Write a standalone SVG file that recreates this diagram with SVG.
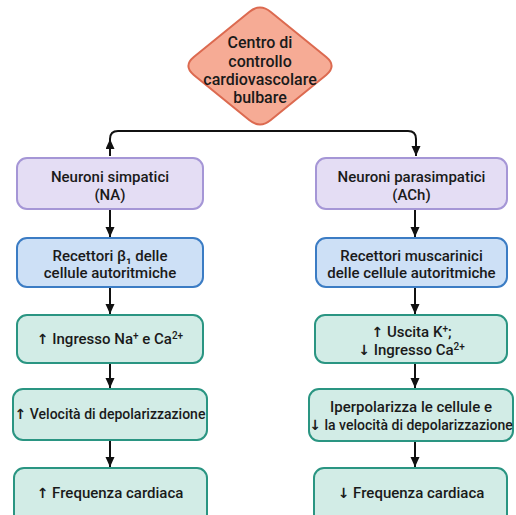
<svg xmlns="http://www.w3.org/2000/svg" width="516" height="515" viewBox="0 0 516 515">
<style>
.t{font-family:Roboto,"Liberation Sans",Arial,sans-serif;font-size:15px;font-weight:500;fill:#1a1a1a;text-anchor:middle}
.n{font-size:14px}
.d{font-family:Roboto,"Liberation Sans",Arial,sans-serif;font-size:16px;font-weight:500;fill:#1a1a1a;text-anchor:middle}
.p{fill:#e4ddf4;stroke:#a596d6;stroke-width:2}
.b{fill:#cde0f6;stroke:#3b7cc4;stroke-width:2}
.g{fill:#d2ece6;stroke:#2a9582;stroke-width:2}
.c{fill:none;stroke:#111;stroke-width:2}
.s{font-size:10px}
.a{font-family:"DejaVu Sans",sans-serif;font-weight:bold;font-size:14px}
</style>
<defs>
<marker id="ah" markerUnits="userSpaceOnUse" markerWidth="10" markerHeight="10" refX="10" refY="4.5" orient="auto">
<path d="M0,0 L10,4.5 L0,9 z" fill="#111"/>
</marker>
</defs>
<rect width="516" height="515" fill="#fff"/>
<g id="connectors">
<path class="c" d="M110,156 V139 Q110,131 118,131 H408 Q416,131 416,139 V156" marker-end="url(#ah)"/>
<path class="c" d="M110,156 V139" marker-end="url(#ah)"/>
<line class="c" x1="110" y1="209" x2="110" y2="237" marker-end="url(#ah)"/>
<line class="c" x1="110" y1="287" x2="110" y2="314" marker-end="url(#ah)"/>
<line class="c" x1="110" y1="363" x2="110" y2="388" marker-end="url(#ah)"/>
<line class="c" x1="110" y1="440" x2="110" y2="467" marker-end="url(#ah)"/>
<line class="c" x1="415" y1="209" x2="415" y2="237" marker-end="url(#ah)"/>
<line class="c" x1="415" y1="287" x2="415" y2="314" marker-end="url(#ah)"/>
<line class="c" x1="415" y1="363" x2="415" y2="388" marker-end="url(#ah)"/>
<line class="c" x1="415" y1="441" x2="415" y2="467" marker-end="url(#ah)"/>
</g>
<g id="centro">
<path d="M249.2,11.9 Q260,3 270.8,11.9 L326.2,57.1 Q337,66 326.2,74.9 L270.8,120.1 Q260,129 249.2,120.1 L193.8,74.9 Q183,66 193.8,57.1 Z" fill="#f6ab95" stroke="#dc6a50" stroke-width="2"/>
<text class="d" x="260" y="48">Centro di</text>
<text class="d" x="260" y="67">controllo</text>
<text class="d" x="260" y="85">cardiovascolare</text>
<text class="d" x="260" y="103">bulbare</text>
</g>
<g id="simpatici">
<rect class="p" x="17" y="158" width="186" height="51" rx="10"/>
<text class="t" x="110" y="182">Neuroni simpatici</text>
<text class="t" x="110" y="200">(NA)</text>
</g>
<g id="recettori-beta">
<rect class="b" x="17" y="238" width="186" height="49" rx="10"/>
<text class="t" x="110" y="261">Recettori β₁ delle</text>
<text class="t" x="110" y="278">cellule autoritmiche</text>
</g>
<g id="ingresso-na-ca">
<rect class="g" x="17" y="315" width="186" height="48" rx="10"/>
<text class="t" x="110" y="344"><tspan class="a">↑</tspan> Ingresso Na<tspan class="s" dy="-5">+</tspan><tspan dy="5"> e Ca</tspan><tspan class="s" dy="-5">2+</tspan></text>
</g>
<g id="velocita-su">
<rect class="g" x="13" y="389" width="194" height="51" rx="10"/>
<text class="t n" x="110" y="419"><tspan class="a">↑</tspan> Velocità di depolarizzazione</text>
</g>
<g id="frequenza-su">
<rect class="g" x="14" y="468" width="193" height="60" rx="10"/>
<text class="t" x="110" y="498"><tspan class="a">↑</tspan> Frequenza cardiaca</text>
</g>
<g id="parasimpatici">
<rect class="p" x="316" y="158" width="191" height="51" rx="10"/>
<text class="t" x="411.5" y="182">Neuroni parasimpatici</text>
<text class="t" x="411.5" y="200">(ACh)</text>
</g>
<g id="recettori-muscarinici">
<rect class="b" x="316" y="238" width="191" height="49" rx="10"/>
<text class="t" x="411.5" y="261">Recettori muscarinici</text>
<text class="t" x="411.5" y="278">delle cellule autoritmiche</text>
</g>
<g id="uscita-k">
<rect class="g" x="315" y="315" width="192" height="48" rx="10"/>
<text class="t" x="411.5" y="337"><tspan class="a">↑</tspan> Uscita K<tspan class="s" dy="-5">+</tspan><tspan dy="5">;</tspan></text>
<text class="t" x="411.5" y="355"><tspan class="a">↓</tspan> Ingresso Ca<tspan class="s" dy="-5">2+</tspan></text>
</g>
<g id="iperpolarizza">
<rect class="g" x="309" y="389" width="204" height="52" rx="10"/>
<text class="t" x="411" y="412">Iperpolarizza le cellule e</text>
<text class="t n" x="411" y="430"><tspan class="a">↓</tspan> la velocità di depolarizzazione</text>
</g>
<g id="frequenza-giu">
<rect class="g" x="314" y="468" width="193" height="60" rx="10"/>
<text class="t" x="411" y="498"><tspan class="a">↓</tspan> Frequenza cardiaca</text>
</g>
</svg>
